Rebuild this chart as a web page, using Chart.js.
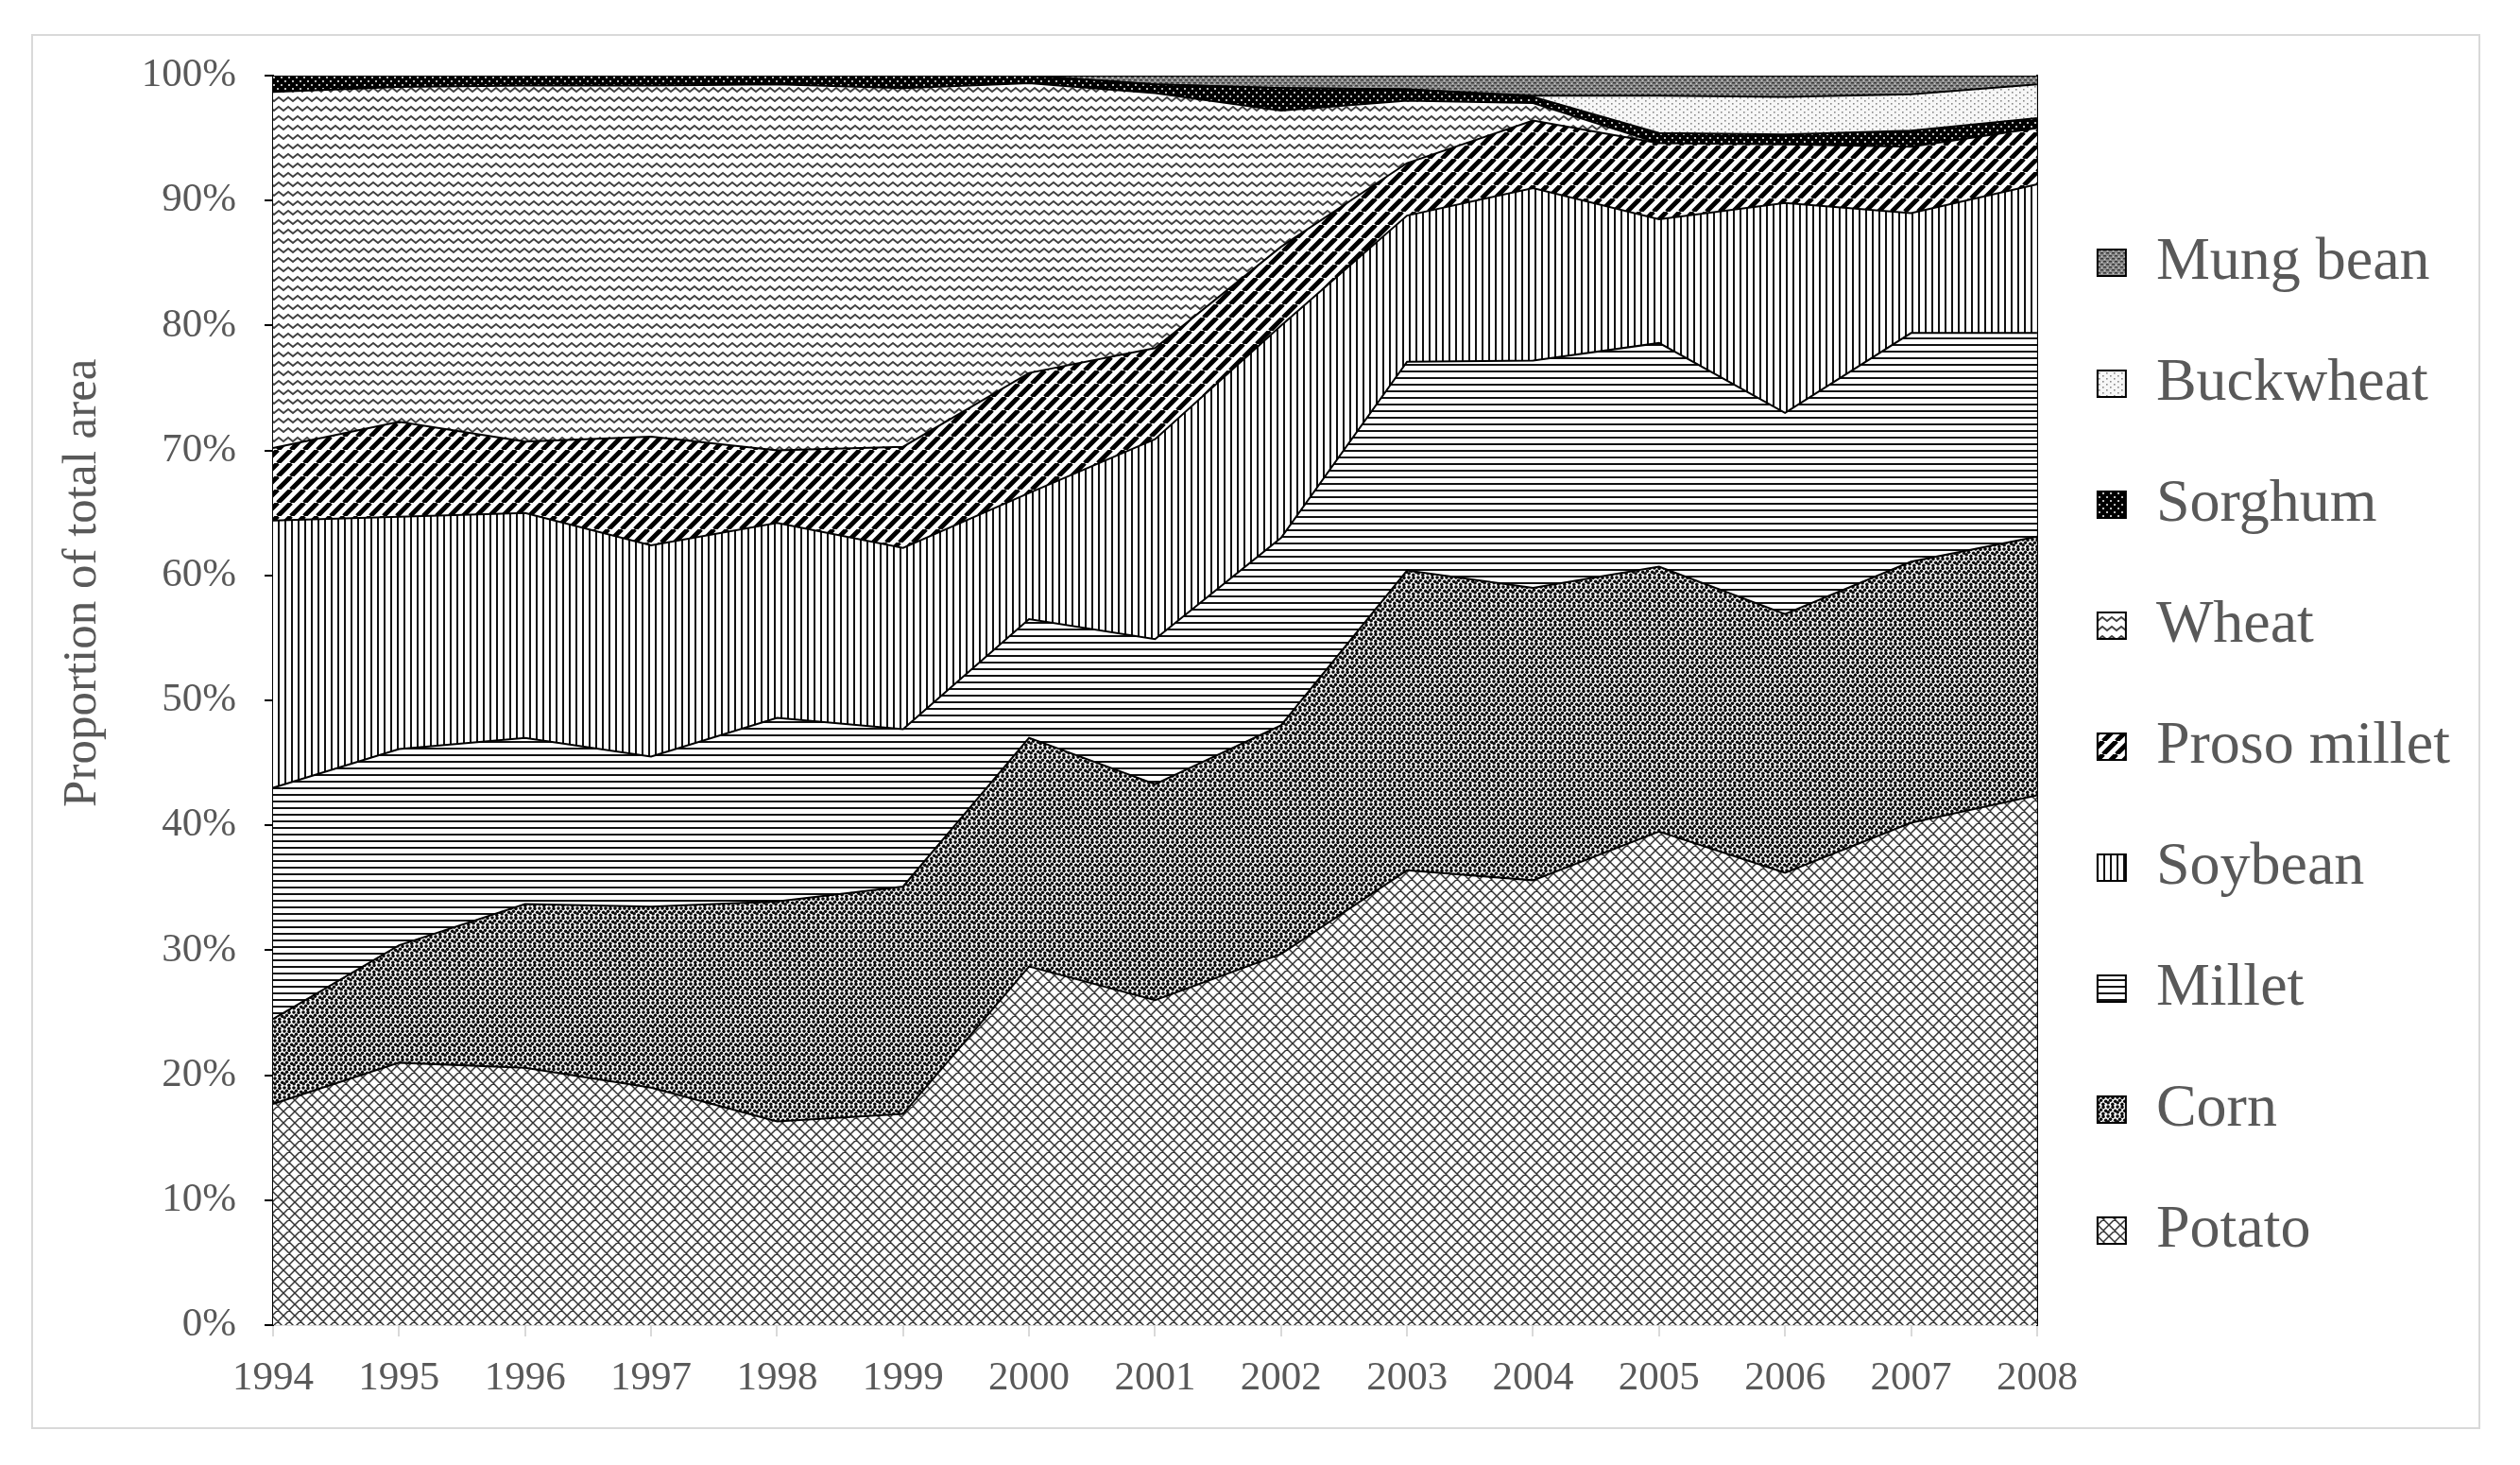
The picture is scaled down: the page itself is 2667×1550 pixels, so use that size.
<!DOCTYPE html>
<html><head><meta charset="utf-8">
<script src="https://cdn.jsdelivr.net/npm/chart.js@4.4.1/dist/chart.umd.min.js"></script>
<style>
html,body{margin:0;padding:0;background:#fff;}
#wrap{position:relative;width:2667px;height:1550px;overflow:hidden;}
#frame{position:absolute;left:33px;top:36px;width:2592px;height:1476px;box-sizing:border-box;border:2px solid #d9d9d9;pointer-events:none;}
canvas{position:absolute;left:0;top:0;}
</style></head><body>
<div id="wrap"><canvas id="c" width="2667" height="1550"></canvas><div id="frame"></div></div>
<script>
// ---- data (percent of total area), bottom to top ----
const years = ['1994','1995','1996','1997','1998','1999','2000','2001','2002','2003','2004','2005','2006','2007','2008'];
const potato    = [17.7, 21.0, 20.6, 19.0, 16.3, 16.9, 28.7, 26.0, 29.7, 36.4, 35.6, 39.5, 36.2, 40.2, 42.4];
const corn      = [ 6.8,  9.4, 13.1, 14.5, 17.6, 18.2, 18.3, 17.3, 18.3, 24.0, 23.4, 21.2, 20.7, 20.9, 20.7];
const millet    = [18.5, 15.7, 13.3, 12.0, 14.7, 12.6,  9.5, 11.6, 15.0, 16.7, 18.2, 17.9, 16.1, 18.3, 16.3];
const soybean   = [21.4, 18.6, 18.0, 16.9, 15.6, 14.5, 10.1, 16.0, 17.0, 11.7, 13.8,  9.9, 16.8,  9.6, 11.9];
const prosoMillet = [5.8, 7.6, 5.7, 8.7, 5.8, 8.1, 9.6, 7.3, 6.3, 4.2, 5.4, 6.1, 4.7, 5.3, 4.5];
const wheat     = [28.5, 26.8, 28.5, 28.1, 29.3, 28.7, 23.2, 20.4, 10.9, 5.0, 1.4, 0, 0, 0, 0];
const sorghum   = [1.3, 0.9, 0.8, 0.8, 0.7, 1.0, 0.6, 0.7, 1.8, 0.9, 0.5, 0.8, 0.8, 1.3, 0.8];
const buckwheat = [0, 0, 0, 0, 0, 0, 0, 0, 0, 0, 0.1, 3.0, 3.0, 2.9, 2.7];
const mungBean  = [0, 0, 0, 0, 0, 0, 0, 0.7, 1.0, 1.1, 1.6, 1.6, 1.7, 1.5, 0.7];
const seriesNames = ['Potato','Corn','Millet','Soybean','Proso millet','Wheat','Sorghum','Buckwheat','Mung bean'];
const yTicks = [0,10,20,30,40,50,60,70,80,90,100];
const yTitle = 'Proportion of total area';

const FONT = '"Liberation Serif", "Times New Roman", serif';
const TXT = '#595959';
const canvas = document.getElementById('c');
const mainCtx = canvas.getContext('2d');

function mk(w, h, draw) {
  const c = document.createElement('canvas');
  c.width = w; c.height = h;
  const g = c.getContext('2d');
  draw(g, w, h);
  return mainCtx.createPattern(c, 'repeat');
}
function dots(g, w, h, pts, r) {
  for (const [x, y] of pts) for (const dx of [-w, 0, w]) for (const dy of [-h, 0, h]) {
    g.beginPath(); g.arc(x + dx, y + dy, r, 0, Math.PI * 2); g.fill();
  }
}
const patPotato = mk(12, 12, (g, w, h) => {
  g.fillStyle = '#fff'; g.fillRect(0, 0, w, h);
  g.strokeStyle = '#333'; g.lineWidth = 1.5;
  g.beginPath();
  for (const o of [-12, 0, 12]) { g.moveTo(o, 0); g.lineTo(o + 12, 12); g.moveTo(o, 12); g.lineTo(o + 12, 0); }
  g.stroke();
});
const patCorn = mk(10, 10, (g, w, h) => {
  g.fillStyle = '#fff'; g.fillRect(0, 0, w, h);
  g.fillStyle = '#0a0a0a';
  dots(g, w, h, [[1, 1], [6, 1.5], [3.5, 4.2], [8.6, 5.2], [1.2, 6.8], [5.8, 8.3]], 1.75);
});
const patMillet = mk(4, 7, (g, w, h) => {
  g.fillStyle = '#fff'; g.fillRect(0, 0, w, h);
  g.fillStyle = '#111'; g.fillRect(0, 0, w, 2);
});
const patSoy = mk(7, 4, (g, w, h) => {
  g.fillStyle = '#fff'; g.fillRect(0, 0, w, h);
  g.fillStyle = '#111'; g.fillRect(0, 0, 2, h);
});
const patProso = mk(14, 14, (g, w, h) => {
  g.fillStyle = '#fff'; g.fillRect(0, 0, w, h);
  g.strokeStyle = '#000'; g.lineWidth = 5;
  g.beginPath();
  for (const o of [-14, 0, 14]) { g.moveTo(o, 14); g.lineTo(o + 14, 0); }
  g.stroke();
});
const patWheat = mk(10, 10, (g, w, h) => {
  g.fillStyle = '#fff'; g.fillRect(0, 0, w, h);
  g.strokeStyle = '#404040'; g.lineWidth = 1.8;
  g.beginPath(); g.moveTo(-2.5, 5); g.lineTo(0, 7); g.lineTo(5, 3); g.lineTo(10, 7); g.lineTo(12.5, 5); g.stroke();
});
const patSorghum = mk(8, 8, (g, w, h) => {
  g.fillStyle = '#000'; g.fillRect(0, 0, w, h);
  g.fillStyle = '#bdbdbd'; g.fillRect(1, 1, 2, 2); g.fillRect(5, 5, 2, 2);
});
const patBuck = mk(8, 6, (g, w, h) => {
  g.fillStyle = '#f7f7f7'; g.fillRect(0, 0, w, h);
  g.fillStyle = '#8a8a8a'; g.fillRect(1, 1, 1.6, 1.6); g.fillRect(5, 4, 1.6, 1.6);
});
const patMung = mk(6, 6, (g, w, h) => {
  g.fillStyle = '#8c8c8c'; g.fillRect(0, 0, w, h);
  g.fillStyle = '#3a3a3a'; g.fillRect(0, 0, 3, 1.5); g.fillRect(3, 3, 3, 1.5);
  g.fillStyle = '#d2d2d2'; g.fillRect(4, 1, 1, 1); g.fillRect(1, 4, 1, 1);
});

const values = [potato, corn, millet, soybean, prosoMillet, wheat, sorghum, buckwheat, mungBean];
const pats = [patPotato, patCorn, patMillet, patSoy, patProso, patWheat, patSorghum, patBuck, patMung];

const datasets = values.map((v, i) => ({
  label: seriesNames[i],
  data: v,
  backgroundColor: pats[i],
  borderColor: '#000',
  borderWidth: 2,
  pointRadius: 0,
  tension: 0,
  fill: i === 0 ? 'origin' : '-1'
}));

const yTitlePlugin = {
  id: 'yTitle',
  afterDraw(chart) {
    const { ctx, chartArea: a } = chart;
    ctx.save();
    ctx.translate(a.left - 201, a.top + (a.bottom - a.top) * 0.406);
    ctx.rotate(-Math.PI / 2);
    ctx.font = '51px ' + FONT;
    ctx.fillStyle = TXT;
    ctx.textAlign = 'center';
    ctx.textBaseline = 'middle';
    ctx.fillText(yTitle, 0, 0);
    ctx.restore();
  }
};

new Chart(canvas, {
  type: 'line',
  data: { labels: years, datasets },
  options: {
    responsive: false,
    animation: false,
    devicePixelRatio: 1,
    layout: { padding: { top: 80, right: 64, bottom: 50, left: 0 } },
    plugins: {
      legend: {
        position: 'right',
        reverse: true,
        align: 'center',
        maxWidth: 700,
        labels: {
          color: TXT,
          font: { family: FONT, size: 64 },
          boxWidth: 30,
          boxHeight: 28,
          padding: 64
        }
      },
      tooltip: { enabled: false },
      filler: { propagate: false }
    },
    scales: {
      x: {
        type: 'category',
        offset: false,
        grid: { drawOnChartArea: false, tickLength: 12, color: '#d9d9d9', lineWidth: 2 },
        border: { color: '#d9d9d9', width: 2 },
        ticks: { color: TXT, font: { family: FONT, size: 43 }, padding: 19, maxRotation: 0, autoSkip: false },
        afterFit: s => { s.height = 98; }
      },
      y: {
        stacked: true,
        min: 0, max: 100,
        afterBuildTicks: s => { s.ticks = yTicks.map(v => ({ value: v })); },
        grid: { drawOnChartArea: false, tickLength: 9, color: '#000', lineWidth: 2 },
        border: { color: '#000', width: 2 },
        ticks: { color: TXT, font: { family: FONT, size: 43 }, padding: 30, callback: v => v + '%' },
        afterFit: s => { s.width = 289; }
      },
      y2: {
        position: 'right',
        display: true,
        min: 0, max: 100,
        grid: { display: false, drawTicks: false },
        border: { color: '#000', width: 2 },
        ticks: { display: false },
        afterFit: s => { s.width = 0; }
      }
    }
  },
  plugins: [yTitlePlugin]
});
</script>
</body></html>
